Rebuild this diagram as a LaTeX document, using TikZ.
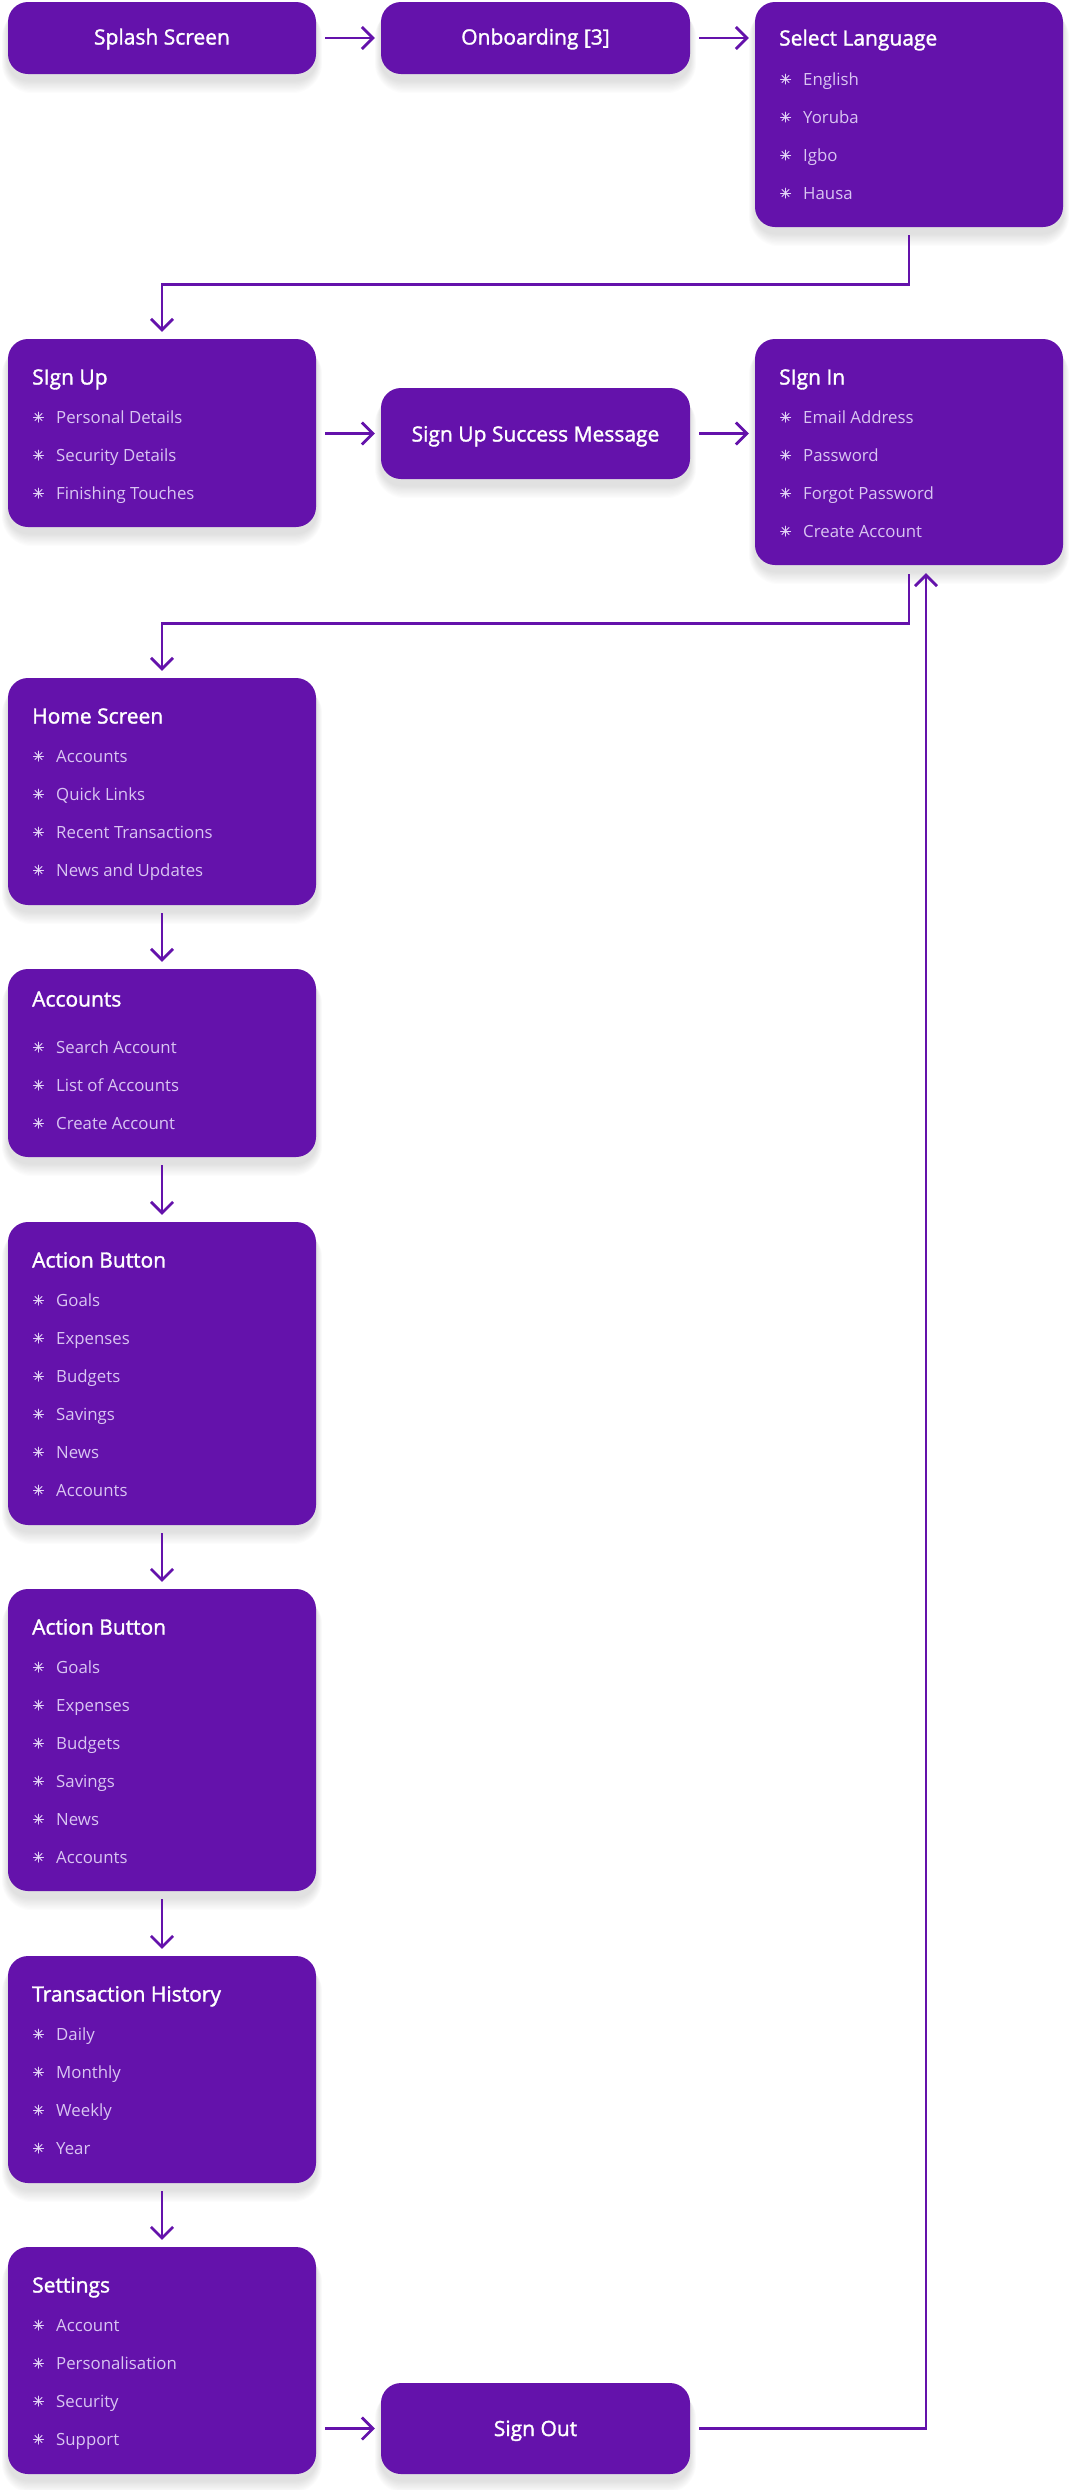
\documentclass[tikz,border=0pt]{standalone}
\usepackage{fontspec}
\setmainfont{Open Sans}
\IfFontExistsTF{Open Sans SemiBold}{\newfontfamily\semib{Open Sans SemiBold}}{\newfontfamily\semib{Open Sans}[FakeBold=1.5]}
\usetikzlibrary{arrows.meta,backgrounds,calc}
\definecolor{boxc}{HTML}{6412AB}
\definecolor{itemc}{HTML}{D9C5F2}
\definecolor{bulc}{HTML}{E4D6F8}
\tikzset{
  box/.style={fill=boxc, rounded corners=20pt, inner sep=0pt, minimum width=308pt},
  ttl/.style={anchor=base west, text=white, font=\semib\fontsize{21}{25}\selectfont, inner sep=0pt},
  ctr/.style={anchor=base, text=white, font=\semib\fontsize{21}{25}\selectfont, inner sep=0pt},
  itm/.style={anchor=base west, text=itemc, font=\fontsize{16.8}{20}\selectfont, inner sep=0pt},
  conn/.style={draw=boxc, line width=2.7pt, -{Straight Barb[length=11pt,width=22pt]}},
  bul/.style={draw=bulc, line width=1pt, line cap=round},
}
% #1 box left x, #2 first item centre y, #3 items, #4 name prefix
\newcommand\boxitems[4]{%
  \foreach \txt [count=\i from 0] in {#3} {
    \pgfmathsetmacro\yy{#2+38*\i}
    \foreach \a in {0,45,90,135}
      \draw[bul] ($(#1+30.5,\yy)+(\a:5)$) -- ($(#1+30.5,\yy)+(\a+180:5)$);
    \node[itm] (#4-\i) at (#1+48,\yy+6) {\txt};
  }%
}
\begin{document}
\begin{tikzpicture}[x=1pt,y=-1pt]
\useasboundingbox (0,0) rectangle (1072,2490);

% boxes
\node[box, minimum width=308pt, minimum height=72pt]  (splash)   at (162,38) {};
\node[box, minimum width=309pt, minimum height=72pt]  (onboard)  at (535.5,38) {};
\node[box, minimum height=225pt] (lang)     at (909,114.5) {};
\node[box, minimum height=188pt] (signup)   at (162,433) {};
\node[box, minimum width=309pt, minimum height=91pt]  (success)  at (535.5,433.5) {};
\node[box, minimum height=226pt] (signin)   at (909,452) {};
\node[box, minimum height=227pt] (home)     at (162,791.5) {};
\node[box, minimum height=188pt] (accounts) at (162,1063) {};
\node[box, minimum height=303pt] (ab1)      at (162,1373.5) {};
\node[box, minimum height=302pt] (ab2)      at (162,1740) {};
\node[box, minimum height=227pt] (th)       at (162,2069.5) {};
\node[box, minimum height=227pt] (settings) at (162,2360.5) {};
\node[box, minimum width=309pt, minimum height=91pt]  (signout)  at (535.5,2428.5) {};

% centred labels
\node[ctr] (splashT)  at (162,44.5) {Splash Screen};
\node[ctr] (onboardT) at (535.5,44.5) {Onboarding [3]};
\node[ctr] (successT) at (535.5,441.5) {Sign Up Success Message};
\node[ctr] (signoutT) at (535.5,2436) {Sign Out};

% titles
\node[ttl] (langT)     at (779,45.5)   {Select Language};
\node[ttl] (signupT)   at (32,384.5)   {SIgn Up};
\node[ttl] (signinT)   at (779,384.5)  {SIgn In};
\node[ttl] (homeT)     at (32,723.5)   {Home Screen};
\node[ttl] (accountsT) at (32,1006.5)  {Accounts};
\node[ttl] (ab1T)      at (32,1267.5)  {Action Button};
\node[ttl] (ab2T)      at (32,1634.5)  {Action Button};
\node[ttl] (thT)       at (32,2001.5)  {Transaction History};
\node[ttl] (settingsT) at (32,2292.5)  {Settings};

% items
\boxitems{755}{79}{English,Yoruba,Igbo,Hausa}{langI}
\boxitems{8}{417}{Personal Details,Security Details,Finishing Touches}{signupI}
\boxitems{755}{417}{Email Address,Password,Forgot Password,Create Account}{signinI}
\boxitems{8}{756}{Accounts,Quick Links,Recent Transactions,News and Updates}{homeI}
\boxitems{8}{1047}{Search Account,List of Accounts,Create Account}{accountsI}
\boxitems{8}{1300}{Goals,Expenses,Budgets,Savings,News,Accounts}{abaI}
\boxitems{8}{1667}{Goals,Expenses,Budgets,Savings,News,Accounts}{abbI}
\boxitems{8}{2034}{Daily,Monthly,Weekly,Year}{thI}
\boxitems{8}{2325}{Account,Personalisation,Security,Support}{settingsI}

% connectors
\draw[conn, shorten <=9pt, shorten >=6pt] (splash) -- (onboard);
\draw[conn, shorten <=9pt, shorten >=6pt] (onboard) -- (lang.west|-onboard);
\draw[conn, shorten <=8pt, shorten >=7pt] (lang.south) -- ++(0,57) -| (signup.north);
\draw[conn, shorten <=9pt, shorten >=6pt] (signup.east|-success) -- (success);
\draw[conn, shorten <=9pt, shorten >=6pt] (success) -- (signin.west|-success);
\draw[conn, shorten <=9pt, shorten >=7pt] (signin.south) -- ++(0,58) -| (home.north);
\draw[conn, shorten <=8pt, shorten >=7pt] (home) -- (accounts);
\draw[conn, shorten <=8pt, shorten >=7pt] (accounts) -- (ab1);
\draw[conn, shorten <=8pt, shorten >=7pt] (ab1) -- (ab2);
\draw[conn, shorten <=8pt, shorten >=7pt] (ab2) -- (th);
\draw[conn, shorten <=8pt, shorten >=7pt] (th) -- (settings);
\draw[conn, shorten <=9pt, shorten >=6pt] (settings.east|-signout) -- (signout);
\coordinate (upend) at ([xshift=17pt]signin.south);
\draw[conn, shorten <=9pt, shorten >=8pt] (signout.east) -| (upend);

% background and shadows
\begin{scope}[on background layer]
  \fill[white] (0,0) rectangle (1072,2490);
  \foreach \n in {splash,onboard,lang,signup,success,signin,home,accounts,ab1,ab2,th,settings,signout}{
    \foreach \i in {1,...,10}{
      \fill[black, opacity=0.012, rounded corners=20pt+\i pt]
        ($(\n.north west)+(-0.6*\i,6)$) rectangle ($(\n.south east)+(0.6*\i,6+1.3*\i)$);
    }
  }
\end{scope}
\end{tikzpicture}
\end{document}
